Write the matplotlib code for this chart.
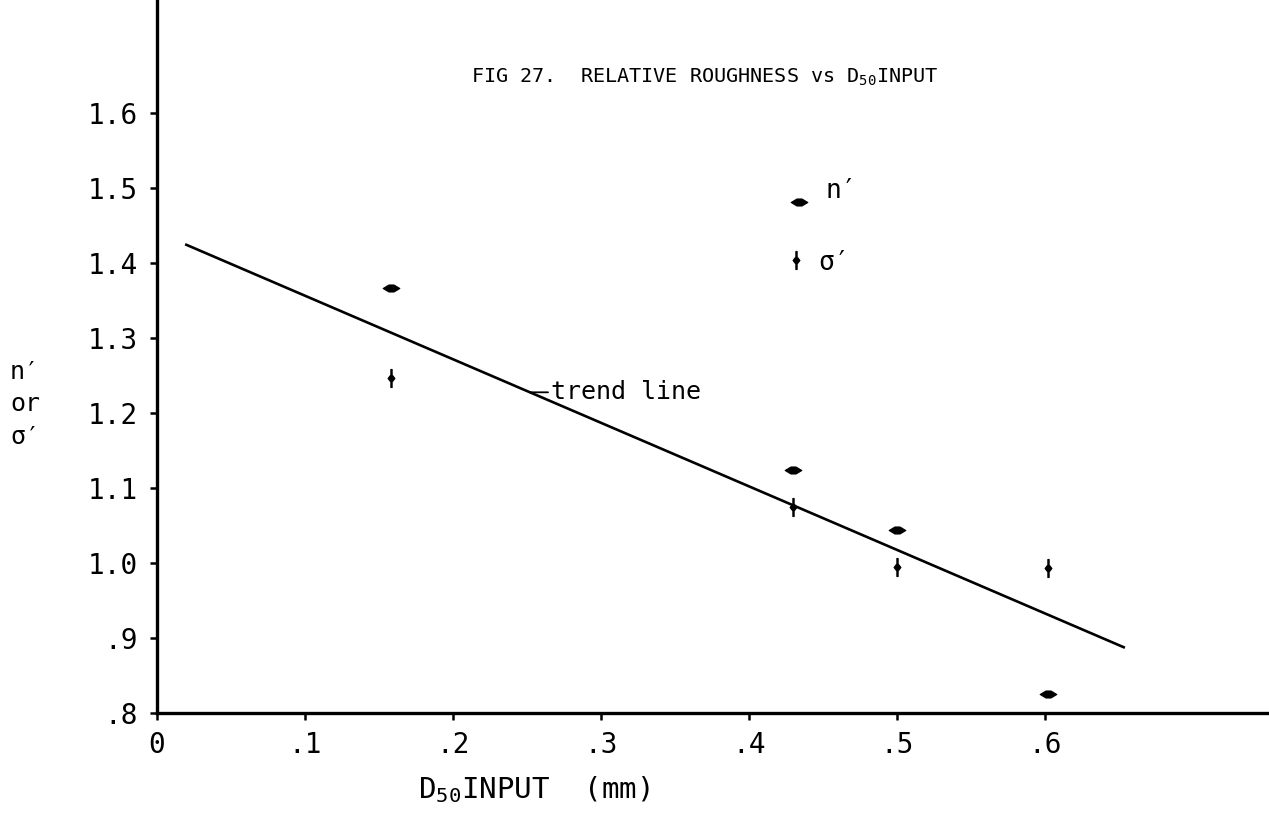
import numpy as np
import matplotlib
matplotlib.use("Agg")
import matplotlib.pyplot as plt
from matplotlib.path import Path

# ---- data ----
d50 = [0.158, 0.430, 0.500, 0.602]
n_prime = [1.367, 1.124, 1.044, 0.825]
sigma_prime = [1.247, 1.075, 0.995, 0.993]
trend_x = [0.019, 0.654]
trend_y = [1.425, 0.887]
key_x = [0.434, 0.432]
key_y = [1.481, 1.404]
key_labels = ["n\u2032", "\u03c3\u2032"]
x_ticks = [0.0, 0.1, 0.2, 0.3, 0.4, 0.5, 0.6]
x_ticklabels = ["0", ".1", ".2", ".3", ".4", ".5", ".6"]
y_ticks = [0.8, 0.9, 1.0, 1.1, 1.2, 1.3, 1.4, 1.5, 1.6]
y_ticklabels = [".8", ".9", "1.0", "1.1", "1.2", "1.3", "1.4", "1.5", "1.6"]
title = "FIG 27.  RELATIVE ROUGHNESS vs D$_{50}$INPUT"
xlabel = "D$_{50}$INPUT  (mm)"

FAM = ["DejaVu Sans Mono", "DejaVu Sans"]
plt.rcParams["font.family"] = FAM
plt.rcParams["mathtext.fontset"] = "custom"
plt.rcParams["mathtext.rm"] = "DejaVu Sans Mono"
plt.rcParams["mathtext.it"] = "DejaVu Sans Mono"
plt.rcParams["mathtext.default"] = "rm"

fig = plt.figure(figsize=(12.69, 8.21), dpi=100)
ax = fig.add_axes([157 / 1269, 108 / 821, 1112 / 1269, 713 / 821])
ax.set_xlim(0, 1112 / 1480)
ax.set_ylim(0.8, 0.8 + 713 / 750)

for s in ["top", "right"]:
    ax.spines[s].set_visible(False)
for s in ["left", "bottom"]:
    ax.spines[s].set_linewidth(2.4)

ax.set_xticks(x_ticks)
ax.set_xticklabels(x_ticklabels)
ax.set_yticks(y_ticks)
ax.set_yticklabels(y_ticklabels)
ax.tick_params(axis="both", direction="out", length=5, width=1.8, labelsize=20, colors="black")
ax.tick_params(axis="x", pad=8)
ax.tick_params(axis="y", pad=9)

n_marker = Path([(-1, 0), (-0.3, 0.42), (0.3, 0.42), (1, 0), (0.3, -0.42), (-0.3, -0.42), (-1, 0)],
                [Path.MOVETO] + [Path.LINETO] * 5 + [Path.CLOSEPOLY])
s_marker = Path([(-0.07, -1), (-0.07, -0.4), (-0.38, 0), (-0.07, 0.4), (-0.07, 1), (0.07, 1), (0.07, 0.4),
                 (0.38, 0), (0.07, -0.4), (0.07, -1), (-0.07, -1)],
                [Path.MOVETO] + [Path.LINETO] * 9 + [Path.CLOSEPOLY])

ax.plot(trend_x, trend_y, color="black", lw=1.9, solid_capstyle="butt")
ax.plot(d50, n_prime, ls="none", marker=n_marker, ms=12, color="black", mew=0.8)
ax.plot(d50, sigma_prime, ls="none", marker=s_marker, ms=13, color="black", mew=0.8)

# key
ax.plot(key_x[0], key_y[0], ls="none", marker=n_marker, ms=12, color="black", mew=0.8)
ax.plot(key_x[1], key_y[1], ls="none", marker=s_marker, ms=13, color="black", mew=0.8)
ax.annotate(key_labels[0], (key_x[0], key_y[0]), xytext=(19, 8), textcoords="offset points",
            fontsize=19, va="center", ha="left")
ax.annotate(key_labels[1], (key_x[1], key_y[1]), xytext=(16, -2), textcoords="offset points",
            fontsize=19, va="center", ha="left")

# trend line label
tx = 0.252
ty = float(np.interp(tx, trend_x, trend_y))
ax.annotate("trend line", xy=(tx, ty), xytext=(15, 0), textcoords="offset points",
            fontsize=18, va="center", ha="left",
            arrowprops=dict(arrowstyle="-", color="black", lw=1.3, shrinkA=0, shrinkB=0))

fig.text(471 / 1269, 1 - 77 / 821, title, fontsize=14.5, ha="left", va="center")
fig.text(418 / 1269, 1 - 790 / 821, xlabel, fontsize=21, ha="left", va="center")

fig.text(25 / 1269, 1 - 372 / 821, "n\u2032", fontsize=18, ha="center", va="center")
fig.text(25 / 1269, 1 - 404 / 821, "or", fontsize=18, ha="center", va="center")
fig.text(25 / 1269, 1 - 437 / 821, "\u03c3\u2032", fontsize=18, ha="center", va="center")

fig.savefig("out.png", dpi=100)
